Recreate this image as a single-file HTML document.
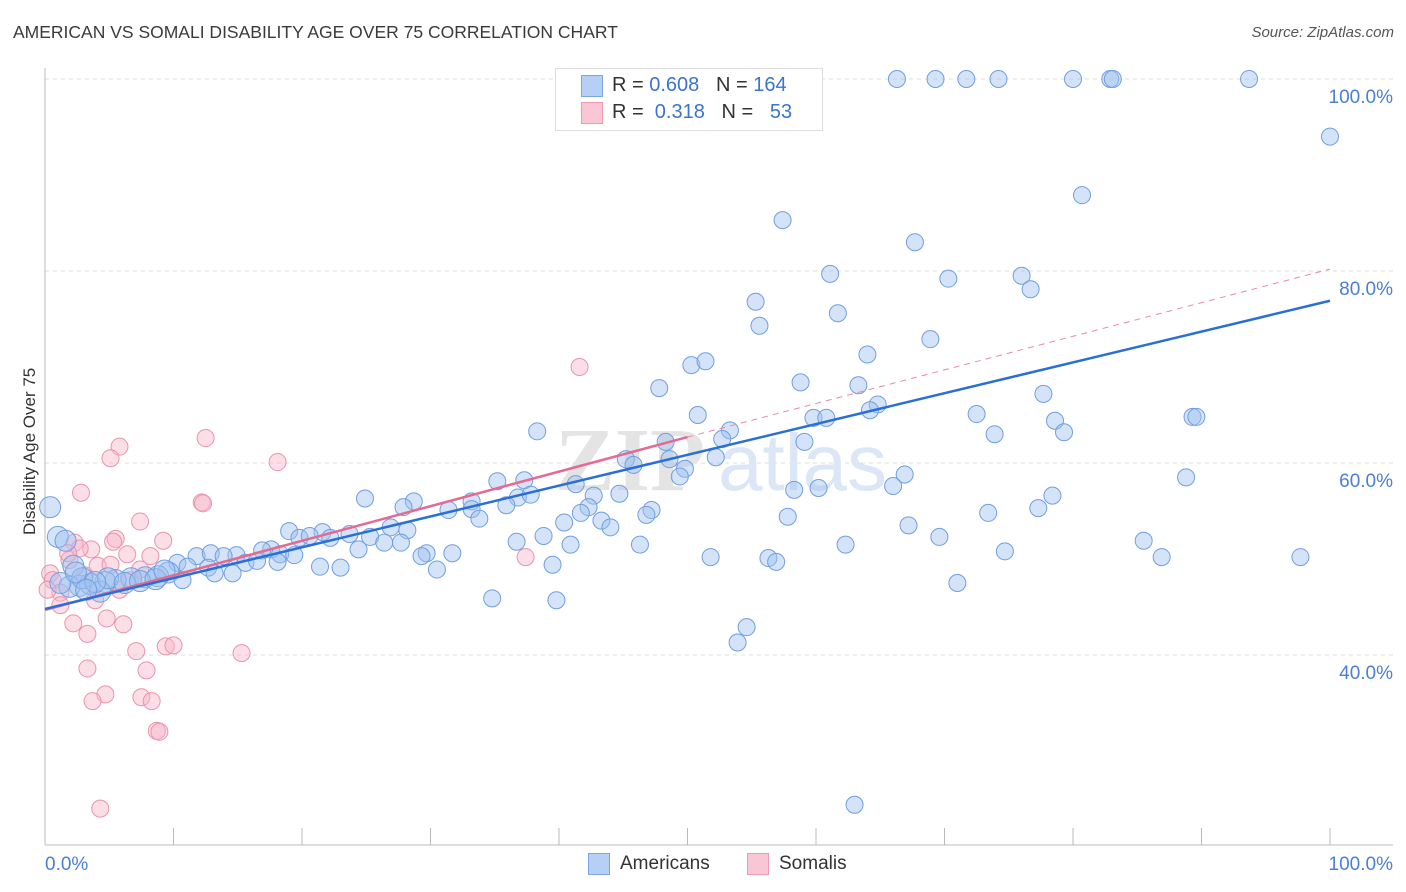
<!DOCTYPE html>
<html><head><meta charset="utf-8"><style>
body{margin:0;background:#fff;font-family:"Liberation Sans",sans-serif;}
#wrap{position:relative;width:1406px;height:892px;overflow:hidden;}
.t{position:absolute;white-space:nowrap;}
</style></head><body>
<div id="wrap">
<div class="t" style="left:13px;top:22px;font-size:17.5px;color:#3a3a3a;">AMERICAN VS SOMALI DISABILITY AGE OVER 75 CORRELATION CHART</div>
<div class="t" style="right:12px;top:24px;font-size:15px;color:#555;font-style:italic;">Source: ZipAtlas.com</div>
<div class="t" style="left:-50px;top:445px;font-size:17px;color:#333;transform:rotate(-90deg);width:160px;text-align:center;">Disability Age Over 75</div>
<svg id="svg" width="1406" height="892" style="position:absolute;left:0;top:0"></svg>
<div style="position:absolute;left:555px;top:68px;width:266px;height:61px;border:1px solid #ddd;background:#fff;"></div>
<div style="position:absolute;left:581px;top:75px;width:20px;height:20px;background:#b5cff5;border:1px solid #7aa6e6;"></div>
<div style="position:absolute;left:581px;top:102px;width:20px;height:20px;background:#f9c6d5;border:1px solid #ee9ab4;"></div>
<div class="t" style="left:612px;top:74px;font-size:20px;color:#333;">R = <span style="color:#3b73cf">0.608</span>&nbsp;&nbsp;&nbsp;N = <span style="color:#3b73cf">164</span></div>
<div class="t" style="left:612px;top:101px;font-size:20px;color:#333;">R = &nbsp;<span style="color:#3b73cf">0.318</span>&nbsp;&nbsp;&nbsp;N = &nbsp;&nbsp;<span style="color:#3b73cf">53</span></div>
<div style="position:absolute;left:588px;top:853px;width:20px;height:20px;background:#b5cff5;border:1px solid #7aa6e6;"></div>
<div class="t" style="left:620px;top:853px;font-size:19px;color:#333;">Americans</div>
<div style="position:absolute;left:747px;top:853px;width:20px;height:20px;background:#f9c6d5;border:1px solid #ee9ab4;"></div>
<div class="t" style="left:779px;top:853px;font-size:19px;color:#333;">Somalis</div>
</div>
<script>
const xTickLabels=["0.0%","100.0%"];
const yTicks=[40,60,80,100];
const yTickLabels=["40.0%","60.0%","80.0%","100.0%"];
const bluePx=[[897,79],[936,79],[966,79],[998,79],[1073,79],[1110,79],[1113,79],[1249,79],[1330,137],[1082,195],[782,220],[915,242],[830,274],[948,279],[1021,276],[1030,289],[756,302],[838,313],[760,326],[931,339],[867,355],[691,365],[705,361],[800,382],[858,385],[659,388],[1044,394],[878,404],[870,410],[977,414],[813,418],[826,418],[698,415],[1192,417],[1197,417],[1055,421],[1064,432],[730,430],[995,434],[537,431],[805,442],[666,442],[722,439],[626,459],[716,457],[670,459],[633,465],[685,469],[680,476],[497,481],[524,480],[905,475],[893,486],[1186,477],[576,484],[794,490],[819,488],[365,499],[414,501],[471,501],[518,498],[531,495],[620,494],[594,496],[1052,496],[1038,508],[403,507],[448,510],[472,509],[506,505],[589,507],[651,510],[646,515],[581,513],[479,519],[788,517],[988,513],[908,525],[601,521],[611,527],[564,523],[939,537],[544,536],[516,542],[391,527],[408,530],[323,532],[350,534],[370,537],[384,543],[401,543],[289,531],[300,538],[310,536],[330,538],[359,549],[570,545],[640,545],[845,545],[1144,541],[1162,557],[1300,557],[1005,551],[710,557],[768,558],[776,562],[427,553],[422,556],[452,553],[437,570],[553,565],[271,549],[280,554],[294,555],[262,550],[236,555],[246,563],[257,561],[277,562],[320,567],[340,568],[177,563],[197,556],[211,553],[223,556],[188,567],[208,568],[232,573],[215,573],[168,572],[183,580],[158,576],[145,577],[131,578],[116,580],[105,582],[90,584],[80,586],[70,587],[60,583],[100,592],[108,578],[492,598],[557,600],[957,583],[747,627],[738,643],[855,805],[50,507],[58,537],[66,541],[73,566],[82,578],[95,582],[125,583],[140,581],[155,579],[165,571],[76,572],[86,590]];
const pinkPx=[[205,438],[119,447],[110,458],[278,462],[81,493],[202,502],[203,503],[140,522],[116,539],[113,542],[163,541],[75,543],[91,549],[127,554],[150,556],[98,566],[50,573],[53,580],[60,593],[73,623],[107,619],[123,624],[87,634],[136,651],[166,646],[173,645],[241,653],[87,668],[146,670],[105,694],[92,701],[142,697],[152,701],[157,731],[160,732],[100,809],[580,367],[525,557],[70,560],[48,590],[60,605],[85,575],[110,565],[120,590],[95,600],[130,580],[140,570],[80,548],[68,553]];
// data values (percent) derived from readings
const blueX=bluePx.map(p=>+((p[0]-45)/12.85).toFixed(1));
const blueY=bluePx.map(p=>+(100-(p[1]-79)/9.6).toFixed(1));
const pinkX=pinkPx.map(p=>+((p[0]-45)/12.85).toFixed(1));
const pinkY=pinkPx.map(p=>+(100-(p[1]-79)/9.6).toFixed(1));
const blueTrend=[44.8,76.9];
const pinkTrend=[44.7,62.7,80.2];
const X=v=>45+v*12.85, Y=v=>79+(100-v)*9.6;
const svg=document.getElementById('svg');
const NS='http://www.w3.org/2000/svg';
function mk(t,a){const e=document.createElementNS(NS,t);for(const k in a)e.setAttribute(k,a[k]);svg.appendChild(e);return e;}
yTicks.forEach((v,i)=>{
 const g=mk('line',{x1:45,x2:1393,y1:Y(v),y2:Y(v),stroke:'#ddd','stroke-dasharray':'4,4'});
 
 
 const t=mk('text',{x:1393,y:Y(v)+24,'text-anchor':'end','font-size':19,fill:'#4a7fd6','font-family':'Liberation Sans'});
 t.textContent=yTickLabels[i];
 
 
});
let a=mk('line',{x1:45,x2:45,y1:68,y2:845,stroke:'#bbb'});


a=mk('line',{x1:45,x2:1393,y1:845,y2:845,stroke:'#bbb'});


for(let i=1;i<=10;i++){const tk=mk('line',{x1:X(i*10),x2:X(i*10),y1:828,y2:845,stroke:'#bbb'});
 
 }
[[0,'start',45],[100,'end',1393]].forEach((d,i)=>{const t=mk('text',{x:d[2],y:870,'text-anchor':d[1],'font-size':19,fill:'#4a7fd6','font-family':'Liberation Sans'});t.textContent=xTickLabels[i];
 
 });
const wm=mk('text',{x:555,y:490,'font-size':90,fill:'#e4e4e4','font-family':'Liberation Serif','font-weight':'bold'});wm.textContent='ZIP';


const wm2=mk('text',{x:718,y:490,'font-size':80,fill:'#dbe6f6','font-family':'Liberation Sans'});wm2.textContent='atlas';


pinkX.forEach((x,i)=>{const c=mk('circle',{cx:X(x),cy:Y(pinkY[i]),r:8.5,fill:'rgba(248,182,202,0.45)',stroke:'#eb93ae','stroke-width':1});
 
 });
blueX.forEach((x,i)=>{const big=x<10;const c=mk('circle',{cx:X(x),cy:Y(blueY[i]),r:big?10.5:8.5,fill:'rgba(160,194,240,0.45)',stroke:'#6f9fe2','stroke-width':1});
 
 });
let l=mk('line',{x1:X(0),y1:Y(pinkTrend[0]),x2:X(50),y2:Y(pinkTrend[1]),stroke:'#e46a92','stroke-width':2.5});


l=mk('line',{x1:X(50),y1:Y(pinkTrend[1]),x2:X(100),y2:Y(pinkTrend[2]),stroke:'#e88aa8','stroke-width':1,'stroke-dasharray':'6,5'});


l=mk('line',{x1:X(0),y1:Y(blueTrend[0]),x2:X(100),y2:Y(blueTrend[1]),stroke:'#2a6fd6','stroke-width':2.5});


</script>
</body></html>
